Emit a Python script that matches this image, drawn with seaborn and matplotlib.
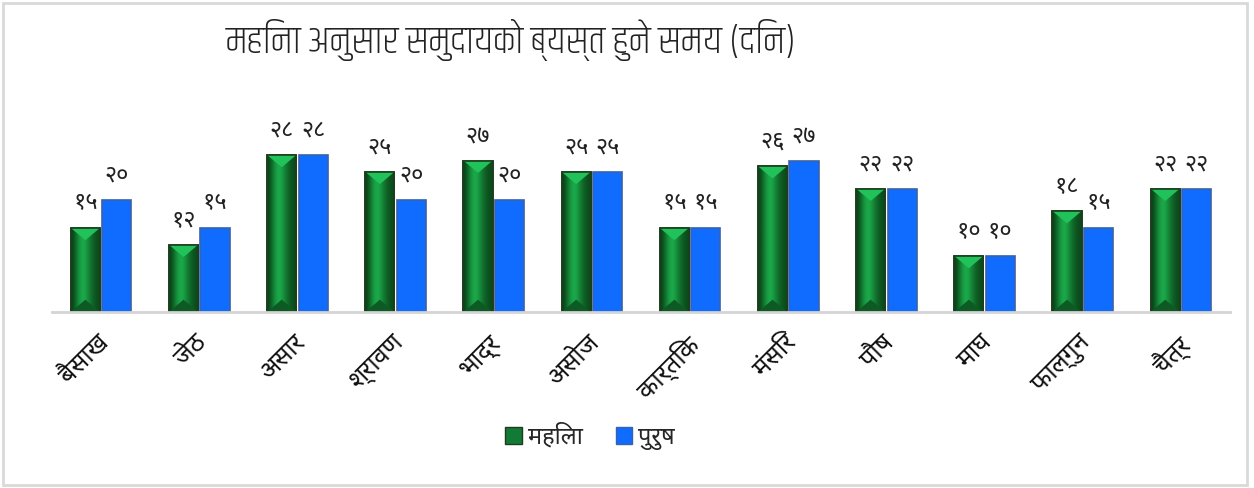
import matplotlib
matplotlib.use("Agg")
import matplotlib.pyplot as plt
from matplotlib import font_manager
from matplotlib.patches import Rectangle, Polygon
from matplotlib.colors import LinearSegmentedColormap
import matplotlib.transforms as mtransforms
import numpy as np
import pandas as pd
import seaborn as sns

# ---------------- data ----------------
months = ["बैसाख", "जेठ", "असार", "श्रावण", "भाद्र", "असोज",
          "कार्तिक", "मंसिर", "पौष", "माघ", "फाल्गुन", "चैत्र"]
female = [15, 12, 28, 25, 27, 25, 15, 26, 22, 10, 18, 22]
male = [20, 15, 28, 20, 20, 25, 15, 27, 22, 10, 15, 22]
series_names = ["महिला", "पुरुष"]
title = "महिना अनुसार समुदायको ब्यस्त हुने समय (दिन)"

DEV_DIGITS = "०१२३४५६७८९"
def to_dev(n):
    return "".join(DEV_DIGITS[int(c)] for c in str(int(n)))

# ---------------- fonts ----------------
available = {f.name for f in font_manager.fontManager.ttflist}
def pick(prefs, default="DejaVu Sans"):
    for p in prefs:
        if p in available:
            return p
    return default

body_font = pick(["Noto Sans Devanagari", "Hind", "Mukta", "Poppins", "Annapurna SIL"])
title_font = pick(["Khand", "Teko", "Noto Sans Devanagari", "Hind"], body_font)

sns.set_theme(style="white")
plt.rcParams["font.family"] = [body_font, "DejaVu Sans"]

df = pd.DataFrame({
    "month": months * 2,
    "value": female + male,
    "series": [series_names[0]] * len(months) + [series_names[1]] * len(months),
})

W, H = 1254, 488
fig = plt.figure(figsize=(W / 100, H / 100), dpi=100)
ax = fig.add_axes([52 / W, 1 - 312 / H, (1230 - 52) / W, (312 - 100) / H])

green = "#14873a"
blue = "#106cff"
sns.barplot(data=df, x="month", y="value", hue="series", order=months,
            hue_order=series_names, palette=[green, blue], width=0.64,
            gap=0.07, saturation=1, ax=ax, legend=False)

# edges
for p in ax.containers[0]:
    p.set_edgecolor("#1d3d1d")
    p.set_linewidth(1.2)
for p in ax.containers[1]:
    p.set_edgecolor("#3a62a8")
    p.set_linewidth(1.2)

# bevel / gradient effect on green bars (derived from the bar patches)
grad = np.array([[0.0, 0.35, 0.75, 1.0, 0.85, 0.55, 0.3, 0.15, 0.05]])
gcmap = LinearSegmentedColormap.from_list("g", ["#0a4418", "#1cae4c"])
for p in ax.containers[0]:
    x0, w, h = p.get_x(), p.get_width(), p.get_height()
    im = ax.imshow(grad, cmap=gcmap, vmin=0, vmax=1, aspect="auto",
                   extent=(x0, x0 + w, 0, h), zorder=p.get_zorder() + 0.1,
                   interpolation="bicubic")
    im.set_clip_path(p)
    ax.add_patch(Polygon([(x0, h), (x0 + w, h), (x0 + w / 2, h - 2.2)], closed=True,
                         facecolor="#22c25a", edgecolor="none", zorder=p.get_zorder() + 0.2))
    ax.add_patch(Polygon([(x0, 0), (x0 + w, 0), (x0 + w / 2, 2.2)], closed=True,
                         facecolor="#0d5a24", edgecolor="none", zorder=p.get_zorder() + 0.2))
    ax.add_patch(Rectangle((x0, 0), w, h, facecolor="none", edgecolor="#1d3d1d",
                           linewidth=1.2, zorder=p.get_zorder() + 0.3))
ax.set_xlim(-0.5, len(months) - 0.5)
ax.set_ylim(0, 37.8)

# value labels
for cont in ax.containers:
    ax.bar_label(cont, labels=[to_dev(v) for v in cont.datavalues], padding=9,
                 fontsize=17, color="#222222")

# axes styling
sns.despine(ax=ax, left=True, top=True, right=True)
ax.spines["bottom"].set_color("#d4d4d4")
ax.spines["bottom"].set_linewidth(2)
ax.set_yticks([])
ax.set_xlabel("")
ax.set_ylabel("")
ax.tick_params(axis="x", length=0, pad=6)
ax.set_xticks(range(len(months)))
ax.set_xticklabels(months, rotation=45, ha="right", rotation_mode="anchor",
                   fontsize=18, color="#111111")
offset = mtransforms.ScaledTranslation(-5 / 100, -10 / 100, fig.dpi_scale_trans)
for lbl in ax.get_xticklabels():
    lbl.set_transform(lbl.get_transform() + offset)

# title
fig.text(511 / W, 1 - 40 / H, title, ha="center", va="center", fontsize=28,
         family=[title_font, body_font, "DejaVu Sans"], fontweight="light",
         color="#222222")

# legend
handles = [Rectangle((0, 0), 1, 1, facecolor="#127a34", edgecolor="#1d3d1d"),
           Rectangle((0, 0), 1, 1, facecolor=blue, edgecolor="#3a62a8")]
fig.legend(handles, series_names, loc="center", bbox_to_anchor=(590 / W, 1 - 437 / H),
           ncol=2, frameon=False, fontsize=17, handlelength=0.7, handleheight=0.7,
           handletextpad=0.25, columnspacing=1.4)

# outer border
fig.patches.append(Rectangle((3 / W, 3 / H), 1244 / W, 482 / H, transform=fig.transFigure,
                             facecolor="none", edgecolor="#d9d9d9", linewidth=2))

fig.savefig("out.png", dpi=100)
